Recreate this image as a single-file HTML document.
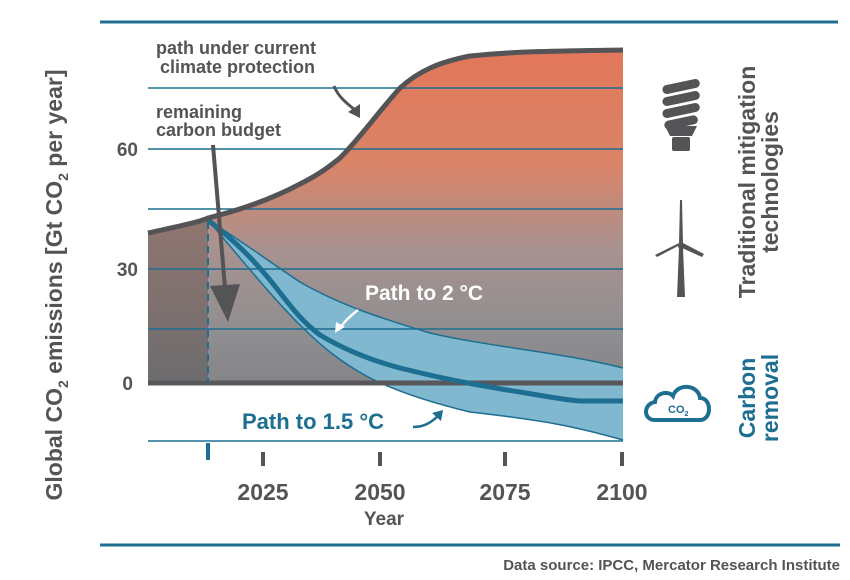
<!DOCTYPE html>
<html><head><meta charset="utf-8"><style>
body{margin:0;background:#fff}
svg{display:block}
text{font-family:"Liberation Sans",sans-serif;font-weight:bold}
</style></head><body>
<svg width="850" height="580" viewBox="0 0 850 580">
<defs>
<linearGradient id="g" x1="0" y1="50" x2="0" y2="383" gradientUnits="userSpaceOnUse">
<stop offset="0" stop-color="#e2775a"/><stop offset="0.35" stop-color="#d98468"/>
<stop offset="0.6" stop-color="#a89290"/><stop offset="0.85" stop-color="#8f8e90"/><stop offset="1" stop-color="#858487"/>
</linearGradient>
<linearGradient id="g2" x1="0" y1="230" x2="0" y2="383" gradientUnits="userSpaceOnUse">
<stop offset="0" stop-color="#8e7570"/><stop offset="1" stop-color="#6d6c6e"/>
</linearGradient>
</defs>
<line x1="100" y1="22" x2="838" y2="22" stroke="#1d6e91" stroke-width="3"/>
<line x1="100" y1="545" x2="840" y2="545" stroke="#1d6e91" stroke-width="3"/>
<path d="M148,233 C180,226 200,222 208,218 C240,210 270,200 300,184 C320,174 330,166 340,158 C360,138 380,110 400,88 C420,70 440,62 470,56 C520,51 560,51 623,50 L623,383 L148,383 Z" fill="url(#g)"/>
<path d="M148,233 C180,226 200,222 208,218 L208,383 L148,383 Z" fill="url(#g2)"/>
<path d="M208,220 C240,240 270,262 300,282 C340,305 380,318 430,333 C490,347 560,352 623,368 L623,440 C570,425 540,420 470,412 C420,400 390,388 370,378 C340,362 320,345 300,325 C275,300 250,270 208,220 Z" fill="#7fb8cf"/>
<g stroke="#1d6e91" stroke-width="1.5">
<line x1="148" y1="88" x2="623" y2="88"/><line x1="148" y1="149" x2="623" y2="149"/>
<line x1="148" y1="209" x2="623" y2="209"/><line x1="148" y1="269" x2="623" y2="269"/>
<line x1="148" y1="329" x2="623" y2="329"/><line x1="148" y1="441" x2="623" y2="441"/>
</g>
<path d="M208,220 C240,240 270,262 300,282 C340,305 380,318 430,333 C490,347 560,352 623,368" fill="none" stroke="#1d6e91" stroke-width="1.5"/>
<path d="M208,220 C250,270 275,300 300,325 C320,345 340,362 370,378 C390,388 420,400 470,412 C540,420 570,425 623,440" fill="none" stroke="#1d6e91" stroke-width="1.5"/>
<line x1="148" y1="383" x2="623" y2="383" stroke="#58585a" stroke-width="5"/>
<path d="M208,220 C240,245 255,262 270,280 C290,305 300,320 320,335 C345,350 370,360 400,368 C440,378 480,386 520,392 C550,397 565,400 580,401 L623,401" fill="none" stroke="#1d6e91" stroke-width="5"/>
<line x1="208" y1="222" x2="208" y2="383" stroke="#1d6e91" stroke-width="2" stroke-dasharray="7,5"/>
<path d="M148,233 C180,226 200,222 208,218 C240,210 270,200 300,184 C320,174 330,166 340,158 C360,138 380,110 400,88 C420,70 440,62 470,56 C520,51 560,51 623,50" fill="none" stroke="#545456" stroke-width="5"/>
<line x1="213" y1="145" x2="225" y2="288" stroke="#545456" stroke-width="4"/>
<polygon points="210,286 240,284 228,322" fill="#545456"/>
<path d="M334,86 C338,96 345,102 355,110" fill="none" stroke="#545456" stroke-width="3"/>
<polygon points="348,112 360,104 360,118" fill="#545456"/>
<path d="M358,310 C350,316 344,322 340,328" fill="none" stroke="#fff" stroke-width="2.5"/>
<polygon points="335,333 336,322 345,327" fill="#fff"/>
<path d="M413,427 C425,427 432,422 440,414" fill="none" stroke="#1d6e91" stroke-width="2.5"/>
<polygon points="443,410 432,413 441,421" fill="#1d6e91"/>
<g fill="#545456" font-size="18">
<text x="156" y="54">path under current</text>
<text x="160" y="73">climate protection</text>
<text x="156" y="118">remaining</text>
<text x="156" y="136">carbon budget</text>
</g>
<text x="365" y="300" fill="#fff" font-size="21">Path to 2 °C</text>
<text x="242" y="429" fill="#1d6e91" font-size="22">Path to 1.5 °C</text>
<g fill="#545456" font-size="19" text-anchor="end">
<text x="138" y="156">60</text><text x="138" y="276">30</text><text x="133" y="390">0</text>
</g>
<g stroke="#545456" stroke-width="4">
<line x1="263" y1="452" x2="263" y2="466"/><line x1="380" y1="452" x2="380" y2="466"/>
<line x1="505" y1="452" x2="505" y2="466"/><line x1="622" y1="452" x2="622" y2="466"/>
</g>
<line x1="208" y1="443" x2="208" y2="460" stroke="#1d6e91" stroke-width="4"/>
<g fill="#545456" font-size="23" text-anchor="middle">
<text x="263" y="500">2025</text><text x="380" y="500">2050</text><text x="505" y="500">2075</text><text x="622" y="500">2100</text>
<text x="384" y="525" font-size="19">Year</text>
</g>
<text transform="translate(62,285) rotate(-90)" fill="#545456" font-size="23" text-anchor="middle">Global CO<tspan font-size="14" dy="6">2</tspan><tspan dy="-6"> emissions [Gt CO</tspan><tspan font-size="14" dy="6">2</tspan><tspan dy="-6"> per year]</tspan></text>
<text x="840" y="570" fill="#545456" font-size="15" text-anchor="end">Data source: IPCC, Mercator Research Institute</text>
<text transform="translate(755,182) rotate(-90)" fill="#545456" font-size="23" text-anchor="middle">Traditional mitigation</text>
<text transform="translate(778,182) rotate(-90)" fill="#545456" font-size="23" text-anchor="middle">technologies</text>
<text transform="translate(755,398) rotate(-90)" fill="#1d6e91" font-size="23" text-anchor="middle">Carbon</text>
<text transform="translate(778,398) rotate(-90)" fill="#1d6e91" font-size="23" text-anchor="middle">removal</text>
<g fill="#545456">
<rect x="662" y="82" width="38" height="9" rx="4.5" transform="rotate(-12 681 86)"/>
<rect x="662" y="94" width="38" height="9" rx="4.5" transform="rotate(-12 681 98)"/>
<rect x="662" y="106" width="38" height="9" rx="4.5" transform="rotate(-12 681 110)"/>
<rect x="664" y="118" width="34" height="9" rx="4.5" transform="rotate(-12 681 122)"/>
<path d="M665,126 L697,126 L692,136 L670,136 Z"/>
<rect x="672" y="137" width="18" height="14" rx="2"/>
</g>
<g fill="#545456">
<polygon points="679,248 683,248 685,297 677,297"/>
<polygon points="680,200 682,200 683,244 679,244"/>
<polygon points="678,246 657,257 655,255 679,243"/>
<polygon points="683,243 704,254 702,257 682,248"/>
<circle cx="681" cy="246" r="3"/>
</g>
<path d="M655,420 C643,420 643,404 655,402 C656,393 668,390 673,396 C677,383 698,384 700,398 C712,398 712,420 700,420 Z" fill="none" stroke="#1d6e91" stroke-width="4"/>
<text x="668" y="413" fill="#1d6e91" font-size="11">CO<tspan font-size="7" dy="3">2</tspan></text>
</svg>
</body></html>
